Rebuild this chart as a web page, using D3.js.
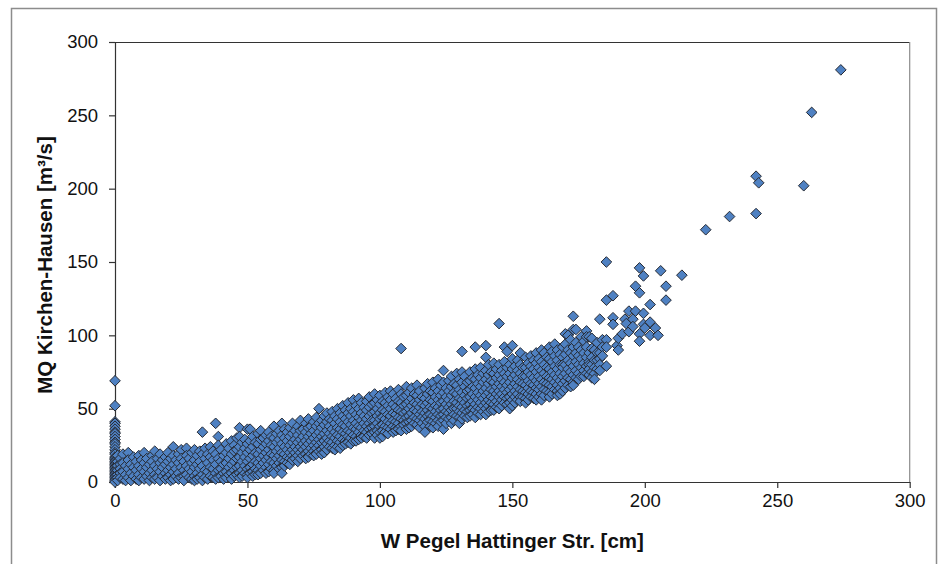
<!DOCTYPE html>
<html>
<head>
<meta charset="utf-8">
<script src="https://cdn.jsdelivr.net/npm/d3@7"></script>
<style>
  body { margin: 0; background: #fff; }
  svg { display: block; font-family: "Liberation Sans", Arial, sans-serif; }
</style>
</head>
<body>
<svg id="chart" width="938" height="564"></svg>
<script>
const xTicks = [0, 50, 100, 150, 200, 250, 300];
const yTicks = [0, 50, 100, 150, 200, 250, 300];
const xTitle = 'W Pegel Hattinger Str. [cm]';
const yTitle = 'MQ Kirchen-Hausen [m³/s]';

// each row: [W in cm, MQ values in m³/s read at that stage ...]
const gaugeZero = [
  [0, 69, 52, 41, 40, 38, 36, 34, 33, 31, 29, 27, 26, 24, 22, 20, 19, 17, 16, 15, 14, 13, 12, 11, 10, 9, 8, 7, 6, 5, 4, 3, 2, 1, 0],
  [1, 18, 14, 11, 8, 5, 3, 1],
  [2, 16, 12, 9, 6, 3]
];

const lowStage = [
  [3, 19, 13, 7, 2], [4, 11, 5, 1], [5, 20, 15, 9, 3], [6, 12, 6, 1], [7, 17, 10, 4],
  [8, 14, 8, 2], [9, 18, 11, 5, 1], [10, 15, 9, 3], [11, 20, 13, 7, 2], [12, 16, 10, 4],
  [13, 12, 6, 1], [14, 18, 14, 8, 3], [15, 21, 11, 5, 2], [16, 16, 9, 3], [17, 19, 13, 7, 1],
  [18, 15, 10, 4], [19, 17, 12, 6, 2], [20, 20, 14, 8, 3], [21, 16, 10, 5, 1], [22, 24, 18, 12, 7, 2],
  [23, 15, 9, 4], [24, 19, 13, 6, 2], [25, 22, 16, 10, 3], [26, 14, 8, 4, 1], [27, 23, 18, 11, 5],
  [28, 16, 9, 3], [29, 20, 13, 7, 2], [30, 22, 15, 10, 4, 1], [31, 18, 12, 6, 2], [32, 21, 14, 9, 3],
  [33, 34, 19, 11, 5, 1], [34, 23, 16, 8, 3], [35, 19, 13, 7, 2], [36, 24, 17, 10, 4], [37, 21, 15, 9, 3],
  [38, 40, 19, 12, 6, 2], [39, 31, 25, 16, 8, 3], [40, 22, 14, 9, 4], [41, 18, 12, 6, 2], [42, 26, 20, 13, 7, 3],
  [43, 23, 16, 10, 5], [44, 28, 19, 12, 6, 2], [45, 25, 21, 14, 8, 4], [46, 30, 22, 16, 10, 5], [47, 37, 31, 24, 17, 11, 6, 3],
  [48, 27, 20, 14, 8, 4], [49, 29, 23, 17, 11, 6], [50, 36, 26, 20, 14, 9, 5, 3], [51, 36, 28, 22, 16, 10, 6], [52, 31, 24, 18, 12, 7, 4],
  [53, 27, 20, 14, 9, 5], [54, 33, 26, 19, 13, 8, 5], [55, 35, 29, 22, 16, 11, 6], [56, 30, 24, 18, 13, 8], [57, 32, 26, 20, 15, 10, 6],
  [58, 34, 28, 22, 17, 12, 7], [59, 31, 25, 19, 14, 9], [60, 38, 30, 24, 18, 13, 8, 6], [61, 33, 27, 21, 16, 11], [62, 35, 29, 23, 18, 13, 9],
  [63, 40, 32, 26, 20, 15, 10, 6], [64, 36, 30, 24, 19, 14, 11], [65, 34, 28, 22, 17, 13], [66, 37, 31, 25, 20, 16, 12], [67, 40, 33, 27, 22, 18, 15]
];

const midStage = [
  [68, 35, 29, 24, 20, 16], [69, 38, 32, 27, 22, 18, 14], [70, 42, 35, 29, 24, 20, 16], [71, 36, 31, 26, 22, 18], [72, 40, 34, 28, 24, 19, 16],
  [73, 43, 37, 31, 26, 21, 17], [74, 38, 33, 28, 23, 19], [75, 41, 35, 30, 25, 21, 18], [76, 44, 38, 32, 27, 23, 19], [77, 50, 40, 34, 29, 25, 21],
  [78, 42, 37, 31, 27, 22, 19], [79, 45, 39, 33, 28, 24, 20], [80, 47, 41, 35, 30, 26, 22], [81, 43, 38, 33, 28, 24], [82, 48, 42, 36, 31, 27, 23],
  [83, 45, 40, 34, 30, 25, 22], [84, 50, 43, 37, 32, 28, 24], [85, 47, 41, 36, 31, 27, 23], [86, 52, 45, 39, 34, 29, 25], [87, 49, 43, 38, 33, 28, 26],
  [88, 54, 47, 41, 35, 31, 27], [89, 50, 45, 39, 34, 30, 26], [90, 56, 48, 42, 37, 32, 28], [91, 52, 46, 40, 36, 31, 28], [92, 57, 50, 44, 38, 34, 29],
  [93, 54, 47, 42, 37, 32, 30], [94, 51, 45, 40, 35, 31], [95, 55, 49, 43, 38, 34, 30], [96, 58, 51, 45, 40, 36, 32], [97, 53, 47, 42, 37, 33],
  [98, 60, 54, 48, 42, 38, 34, 30], [99, 56, 50, 45, 40, 35, 32], [100, 59, 53, 47, 43, 38, 34, 30], [101, 55, 49, 44, 39, 35, 31], [102, 61, 54, 48, 43, 38, 34],
  [103, 58, 52, 46, 41, 37, 33], [104, 62, 56, 50, 45, 40, 36], [105, 60, 53, 47, 42, 38, 34], [106, 57, 51, 46, 41, 37, 35], [107, 63, 55, 49, 44, 40, 36],
  [108, 91, 60, 54, 48, 43, 38, 35], [109, 58, 52, 47, 42, 39], [110, 65, 59, 53, 48, 44, 40, 36], [111, 61, 55, 50, 45, 41, 37], [112, 64, 57, 52, 47, 42, 38],
  [113, 60, 54, 49, 44, 40], [114, 66, 59, 53, 48, 43, 39], [115, 62, 56, 51, 46, 42, 37], [116, 58, 53, 48, 44, 40], [117, 64, 57, 52, 47, 43, 38, 34],
  [118, 67, 60, 54, 49, 45, 41], [119, 62, 56, 51, 46, 42, 38], [120, 68, 61, 55, 50, 45, 41, 37], [121, 64, 58, 52, 48, 44, 40], [122, 70, 62, 56, 51, 46, 42, 38],
  [123, 66, 59, 54, 49, 45, 41], [124, 76, 68, 61, 55, 50, 46, 42, 36], [125, 64, 58, 53, 48, 44, 40], [126, 69, 62, 56, 51, 47, 43], [127, 72, 65, 59, 53, 49, 44, 40],
  [128, 67, 61, 55, 50, 46, 42], [129, 74, 66, 60, 54, 50, 45], [130, 70, 63, 57, 52, 48, 44, 40], [131, 89, 75, 68, 61, 56, 51, 47, 43], [132, 72, 65, 59, 54, 49, 45],
  [133, 68, 62, 57, 52, 48, 44], [134, 75, 69, 63, 58, 53, 49, 45], [135, 71, 65, 60, 55, 50, 46], [136, 92, 77, 70, 64, 58, 53, 49, 44], [137, 73, 67, 61, 56, 51, 47],
  [138, 78, 71, 65, 59, 54, 50, 46], [139, 74, 68, 62, 57, 52, 48], [140, 93, 85, 76, 70, 64, 59, 54, 50, 46], [141, 80, 73, 67, 61, 56, 52, 48], [142, 75, 69, 63, 58, 54, 49],
  [143, 81, 74, 68, 62, 57, 53, 49], [144, 77, 71, 65, 60, 55, 51], [145, 108, 80, 73, 67, 62, 58, 53, 50], [146, 76, 70, 65, 60, 56, 52], [147, 92, 82, 74, 68, 63, 58, 54],
  [148, 89, 78, 72, 66, 61, 57, 53], [149, 80, 74, 68, 63, 58, 54, 50], [150, 93, 84, 77, 71, 65, 60, 56, 52], [151, 79, 73, 67, 62, 58, 54], [152, 83, 76, 70, 65, 60, 56],
  [153, 88, 80, 74, 68, 63, 58, 55], [154, 78, 72, 67, 62, 58], [155, 85, 78, 72, 66, 61, 57, 54], [156, 81, 75, 69, 64, 60, 56], [157, 86, 79, 73, 67, 62, 58],
  [158, 83, 77, 71, 66, 61, 57], [159, 88, 81, 75, 69, 64, 60, 56], [160, 84, 78, 72, 67, 63, 58], [161, 90, 82, 76, 70, 65, 60, 56], [162, 88, 80, 74, 68, 63, 59],
  [163, 85, 78, 72, 67, 62], [164, 92, 84, 77, 71, 66, 61, 58], [165, 89, 82, 75, 70, 65, 60], [166, 94, 86, 79, 73, 68, 63], [167, 90, 83, 77, 71, 66, 62, 59],
  [168, 87, 80, 74, 69, 64, 60]
];

const highStage = [
  [169, 92, 85, 80, 78, 72, 67, 62], [170, 101, 94, 87, 80, 74, 69, 64], [171, 100, 90, 83, 77, 71, 66], [172, 97, 88, 81, 75, 70, 65],
  [173, 113, 104, 92, 86, 79, 73, 68, 66], [174, 104, 95, 88, 82, 76, 71], [175, 92, 86, 80, 74, 70], [176, 99, 90, 84, 78, 72],
  [177, 96, 88, 81, 76, 72], [178, 103, 99, 92, 85, 79, 74], [179, 99, 88, 82, 80, 77, 73], [180, 98, 91, 85, 80, 75, 71],
  [181, 90, 83, 78, 74, 70], [182, 95, 88, 83, 77], [183, 111, 88, 84, 80, 76], [184, 97, 92, 86],
  [185.5, 150, 124, 97, 92, 79], [188, 127, 112, 107.5], [189.5, 93], [190, 98, 90], [191.5, 101],
  [192.5, 111], [193, 108], [194, 116.5, 102.5], [195.5, 111, 106], [196.5, 133.5, 116.5],
  [198, 146, 129, 101, 96], [199.5, 140.5, 115, 107.5], [200, 105], [202, 121, 109, 100], [204, 105],
  [205, 100], [206, 144], [208, 133.5, 124], [214, 141]
];

const floodStage = [
  [223, 172], [232, 181], [242, 208.5, 183], [243, 204], [260, 202], [263, 252], [274, 281]
];

const rows = [...gaugeZero, ...lowStage, ...midStage, ...highStage, ...floodStage];
const points = rows.flatMap(([w, ...qs]) => qs.map(q => ({ w, q })));

const svg = d3.select('#chart');
const plot = { left: 115, right: 909.7, top: 42, bottom: 482 };

const x = d3.scaleLinear().domain([0, 300]).range([plot.left, plot.right]);
const y = d3.scaleLinear().domain([0, 300]).range([plot.bottom, plot.top]);

// outer chart frame
svg.append('path')
  .attr('d', `M11.5,564 V8.5 H936.5 V564`)
  .attr('fill', 'none')
  .attr('stroke', '#8c8c8c')
  .attr('stroke-width', 1.5);

// plot area frame (top dark, right grey)
svg.append('line')
  .attr('x1', plot.left).attr('x2', plot.right).attr('y1', plot.top + 0.5).attr('y2', plot.top + 0.5)
  .attr('stroke', '#333');
svg.append('line')
  .attr('x1', plot.right).attr('x2', plot.right).attr('y1', plot.top).attr('y2', plot.bottom)
  .attr('stroke', '#8c8c8c').attr('stroke-width', 1.2);

const xAxis = svg.append('g')
  .attr('transform', `translate(0,${plot.bottom})`)
  .call(d3.axisBottom(x).tickValues(xTicks).tickSizeInner(6).tickSizeOuter(0).tickPadding(6));
const yAxis = svg.append('g')
  .attr('transform', `translate(${plot.left},0)`)
  .call(d3.axisLeft(y).tickValues(yTicks).tickSizeInner(6).tickSizeOuter(0).tickPadding(11));

[xAxis, yAxis].forEach(g => {
  g.selectAll('path, line').attr('stroke', '#333').attr('stroke-width', 1.2);
  g.selectAll('text')
    .attr('fill', '#111')
    .style('font-size', '18.5px')
    .style('font-family', '"Liberation Sans", Arial, sans-serif');
});

const diamond = d3.symbol().type(d3.symbolDiamond2).size(72);

svg.append('g')
  .selectAll('path')
  .data(points)
  .join('path')
  .attr('transform', d => `translate(${x(d.w)},${y(d.q)})`)
  .attr('d', diamond)
  .attr('fill', '#4f81c2')
  .attr('stroke', '#262a33')
  .attr('stroke-width', 1);

svg.append('text')
  .attr('x', (plot.left + plot.right) / 2)
  .attr('y', 548)
  .attr('text-anchor', 'middle')
  .style('font-size', '20.5px')
  .style('font-weight', 'bold')
  .attr('fill', '#111')
  .text(xTitle);

svg.append('text')
  .attr('transform', `translate(52,${(plot.top + plot.bottom) / 2 + 3}) rotate(-90)`)
  .attr('text-anchor', 'middle')
  .style('font-size', '20.5px')
  .style('font-weight', 'bold')
  .attr('fill', '#111')
  .text(yTitle);
</script>
</body>
</html>
